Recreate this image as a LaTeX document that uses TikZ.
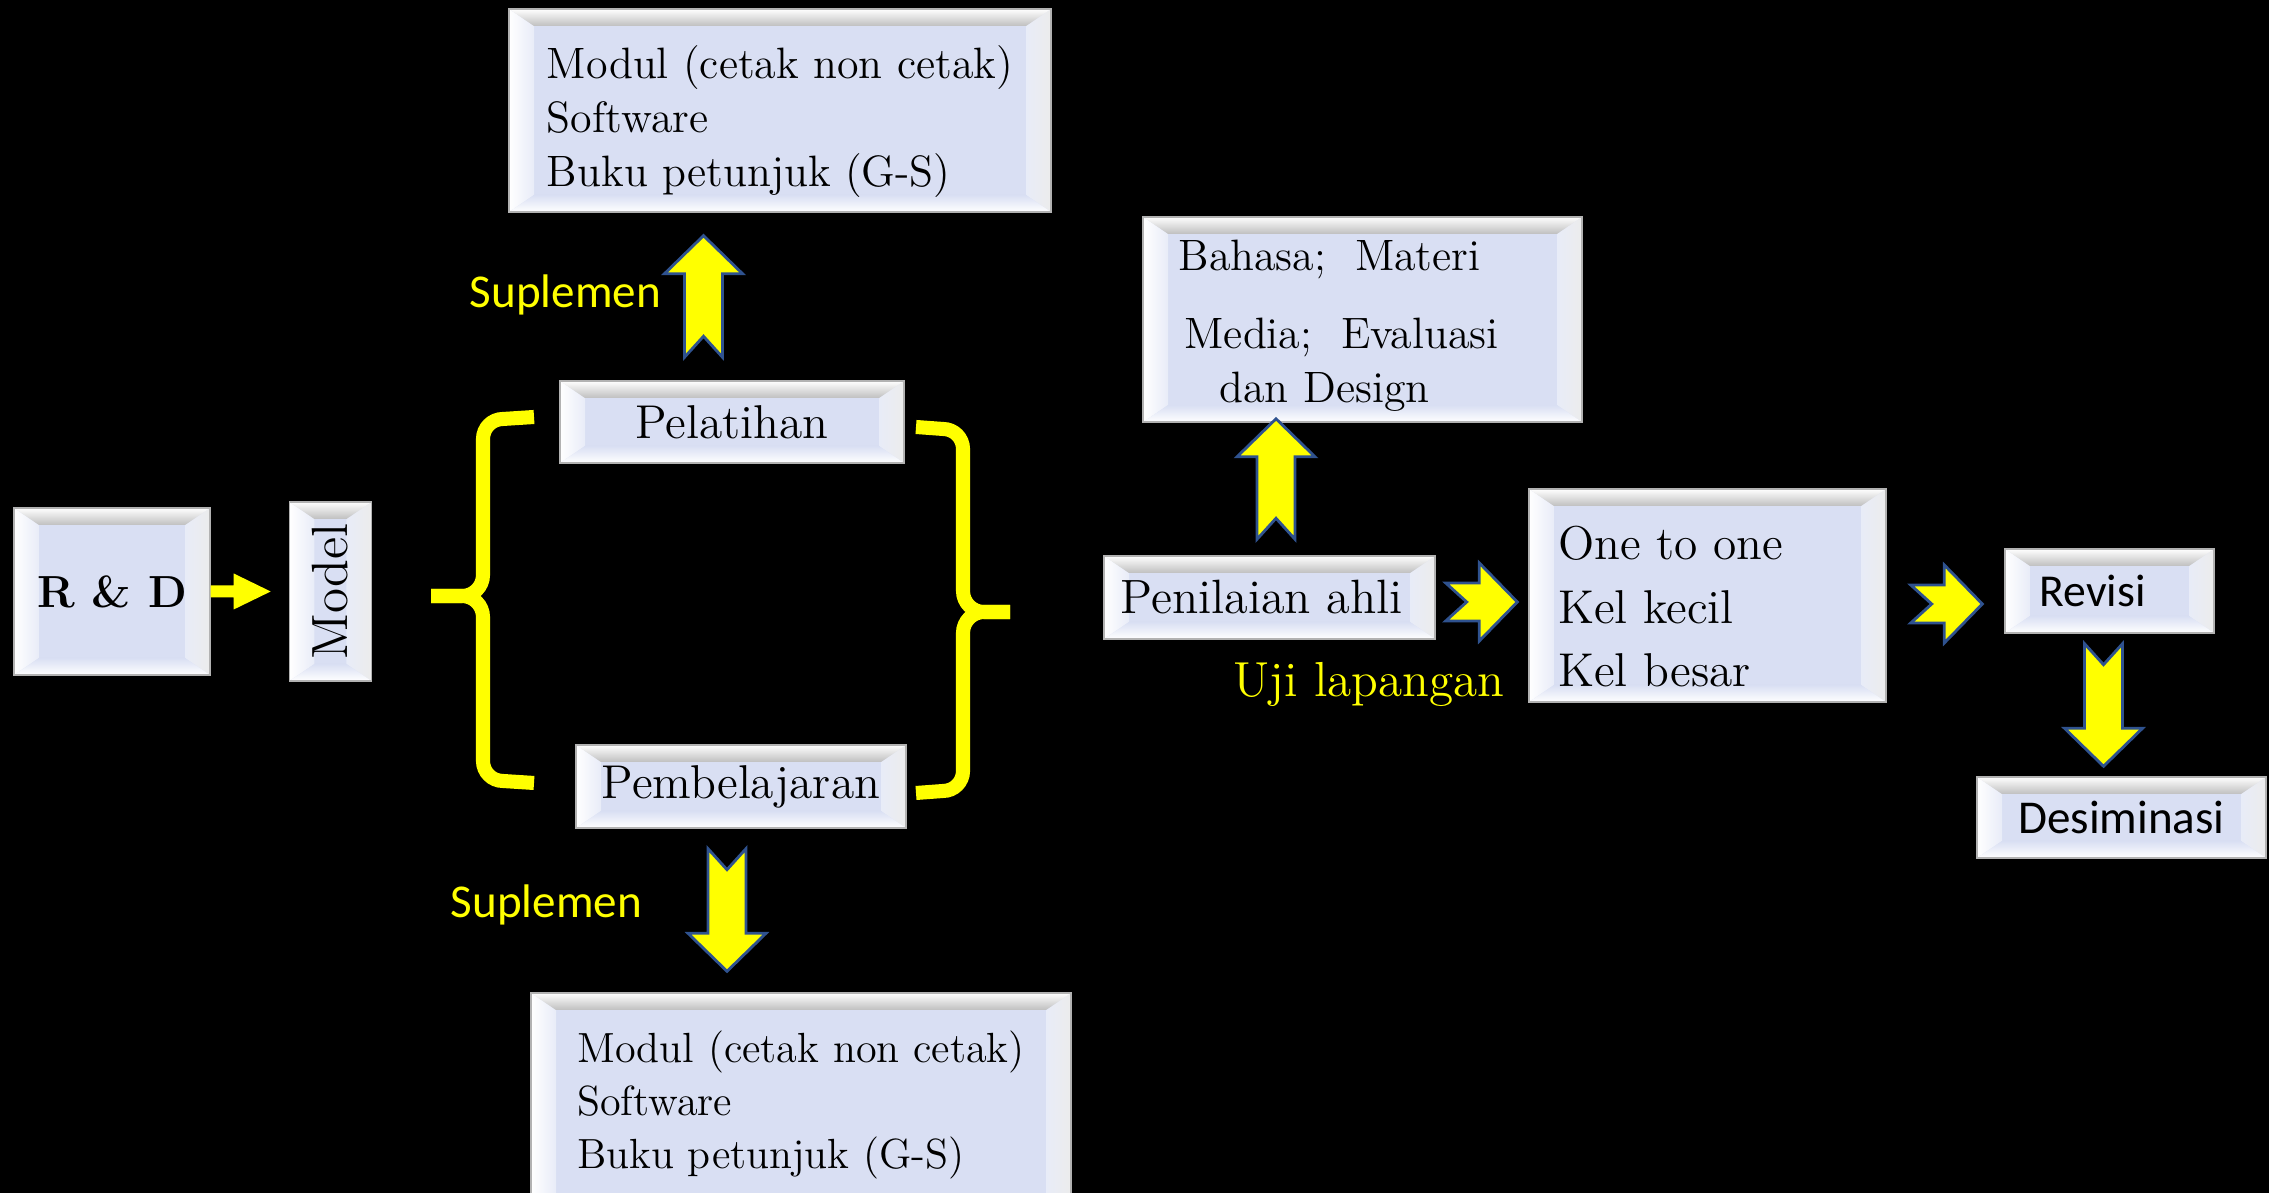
\documentclass[tikz,border=0pt]{standalone}
\usepackage{fontspec}
\usepackage{graphicx}
\usepackage{tikz}
\usetikzlibrary{calc}
\usetikzlibrary{positioning}
\newfontfamily\calibri{Carlito}
\definecolor{boxfill}{RGB}{217,223,243}
\definecolor{arrowyellow}{RGB}{255,255,0}
\definecolor{arrowblue}{RGB}{47,82,143}
\newcommand{\bevx}{0.25cm}
\newcommand{\bevy}{0.17cm}
% block arrow: [style]{tail}{tip}{shaft}{head}{head length}{notch}
\newcommand{\blockarrow}[7][blockarr]{%
	\coordinate (ba-s) at #2;
	\coordinate (ba-e) at #3;
	\coordinate (ba-h) at ($(ba-e)!#6!(ba-s)$);
	\path[#1] ($(ba-s)!#4!90:(ba-e)$) -- ($(ba-h)!#4!-90:(ba-s)$) -- ($(ba-h)!#5!-90:(ba-s)$) -- (ba-e)
		-- ($(ba-h)!#5!90:(ba-s)$) -- ($(ba-h)!#4!90:(ba-s)$) -- ($(ba-s)!#4!-90:(ba-e)$) -- ($(ba-s)!#7!(ba-e)$) -- cycle;
}
\newcommand{\yarrow}[2]{\blockarrow{#1}{#2}{0.19cm}{0.39cm}{0.38cm}{0.21cm}}
\tikzset{
	bevelbox/.style={draw=gray!60, fill=boxfill, inner sep=3pt,
		path picture={
			\coordinate (pnw) at (path picture bounding box.north west);
			\coordinate (pne) at (path picture bounding box.north east);
			\coordinate (psw) at (path picture bounding box.south west);
			\coordinate (pse) at (path picture bounding box.south east);
			\shade[left color=white, right color=boxfill!60!white] (pnw) -- (psw) -- ($(psw)+(\bevx,\bevy)$) -- ($(pnw)+(\bevx,-\bevy)$) -- cycle;
			\shade[left color=boxfill!60!white, right color=white!85!gray] (pne) -- (pse) -- ($(pse)+(-\bevx,\bevy)$) -- ($(pne)+(-\bevx,-\bevy)$) -- cycle;
			\shade[top color=white, bottom color=black!25] (pnw) -- (pne) -- ($(pne)+(-\bevx,-\bevy)$) -- ($(pnw)+(\bevx,-\bevy)$) -- cycle;
			\shade[top color=boxfill, bottom color=white] (psw) -- (pse) -- ($(pse)+(-\bevx,\bevy)$) -- ($(psw)+(\bevx,\bevy)$) -- cycle;
		}},
	blockarr/.style={fill=arrowyellow, draw=arrowblue, line width=0.8pt, line join=miter},
	plainarr/.style={fill=arrowyellow},
	brace/.style={draw=arrowyellow, line width=4pt},
	yellowlabel/.style={text=arrowyellow, inner sep=0pt, anchor=base},
}
\begin{document}
\begin{tikzpicture}
	\useasboundingbox (0,0) rectangle (22.69,11.93);
	\fill[black] (0,0) rectangle (22.69,11.93);
	\clip (0,0) rectangle (22.69,11.93);

	\node(rd)	[bevelbox, minimum width=1.96cm, minimum height=1.67cm, font=\bfseries\fontsize{12.8}{15}\selectfont] at (1.12,6.015) {R \& D};
	\node(model)	[bevelbox, minimum width=0.82cm, minimum height=1.79cm, font=\fontsize{14.5}{17}\selectfont, right=0.78cm of rd] {\rotatebox{90}{Model}};

	\node(pel)	[bevelbox, minimum width=3.44cm, minimum height=0.82cm, font=\fontsize{13.5}{16}\selectfont] at (7.32,7.71) {Pelatihan};
	\node(pem)	[bevelbox, minimum width=3.30cm, minimum height=0.83cm, font=\fontsize{13.5}{16}\selectfont] at (7.41,4.065) {Pembelajaran};
	\node(suptop)	[bevelbox, minimum width=5.42cm, minimum height=2.03cm, align=left, font=\fontsize{12.5}{15.4}\selectfont] at (7.80,10.825)
		{\rule{0pt}{0.55cm}Modul (cetak non cetak)\\Software\\Buku petunjuk (G-S)};
	\node(supbot)	[bevelbox, minimum width=5.40cm, minimum height=2.24cm, align=left, font=\fontsize{12}{15.2}\selectfont] at (8.01,0.88)
		{Modul (cetak non cetak)\\Software\\Buku petunjuk (G-S)};
	\node(lbltop)	[yellowlabel, font=\calibri\fontsize{13.4}{16}\selectfont] at (5.655,8.85) {Suplemen};
	\node(lblbot)	[yellowlabel, font=\calibri\fontsize{13.4}{16}\selectfont] at (5.465,2.75) {Suplemen};

	\node(ahli)	[bevelbox, minimum width=3.31cm, minimum height=0.83cm, font=\fontsize{13.7}{16}\selectfont] at (12.695,5.955) {Penilaian ahli\hspace*{0.16cm}};
	\node(bahasa)	[bevelbox, minimum width=4.39cm, minimum height=2.03cm, align=left, font=\fontsize{12.5}{15.4}\selectfont] at (13.625,8.735)
		{\rule{0pt}{0.43cm}Bahasa;\ \ Materi\\[6.8pt]\hspace*{0.06cm}Media;\ \ Evaluasi\rule{0.48cm}{0pt}\\\hspace*{0.41cm}dan Design};
	\node(lbluji)	[yellowlabel, font=\fontsize{14}{16}\selectfont] at (13.69,4.96) {Uji lapangan};
	\node(oto)	[bevelbox, minimum width=3.57cm, minimum height=2.13cm, align=left, font=\fontsize{13.5}{18}\selectfont] at (17.075,5.975)
		{\rule{0pt}{0.56cm}One to one\hspace*{0.74cm}\\Kel kecil\\Kel besar};
	\node(revisi)	[bevelbox, minimum width=2.09cm, minimum height=0.84cm, font=\calibri\fontsize{13}{16}\selectfont] at (21.095,6.02) {Revisi\hspace*{0.34cm}};
	\node(desim)	[bevelbox, minimum width=2.89cm, minimum height=0.81cm, font=\calibri\fontsize{13.4}{16}\selectfont] at (21.215,3.755) {Desiminasi};

	% braces
	\draw[brace] (5.34,7.76) -- (5.03,7.74) to[out=180,in=90] (4.83,7.54) -- (4.83,6.18) to[out=-90,in=0] (4.62,5.97) -- (4.31,5.97);
	\draw[brace] (4.31,5.97) -- (4.62,5.97) to[out=0,in=90] (4.83,5.76) -- (4.83,4.32) to[out=-90,in=180] (5.03,4.12) -- (5.34,4.10);
	\draw[brace] (9.16,7.66) -- (9.43,7.64) to[out=0,in=90] (9.63,7.44) -- (9.63,6.02) to[out=-90,in=180] (9.84,5.81) -- (10.10,5.81);
	\draw[brace] (10.10,5.81) -- (9.84,5.81) to[out=180,in=90] (9.63,5.60) -- (9.63,4.22) to[out=-90,in=0] (9.43,4.02) -- (9.16,4.00);

	% arrows
	\blockarrow[plainarr]{(rd.east)}{($(rd.east)+(0.60,0)$)}{0.06cm}{0.18cm}{0.37cm}{0cm}
	\yarrow{($(pel.north)+(-0.285,0.23)$)}{($(suptop.south)+(-0.765,-0.23)$)}
	\yarrow{($(pem.south)+(-0.14,-0.20)$)}{($(supbot.north)+(-0.74,0.21)$)}
	\yarrow{($(ahli.north)+(0.065,0.16)$)}{($(bahasa.south)+(-0.865,0.04)$)}
	\yarrow{($(ahli.east)+(0.10,-0.045)$)}{($(oto.west)+(-0.11,-0.065)$)}
	\yarrow{($(oto.east)+(0.24,-0.085)$)}{($(revisi.west)+(-0.22,-0.13)$)}
	\yarrow{($(revisi.south)+(-0.06,-0.10)$)}{($(desim.north)+(-0.18,0.10)$)}
\end{tikzpicture}
\end{document}
